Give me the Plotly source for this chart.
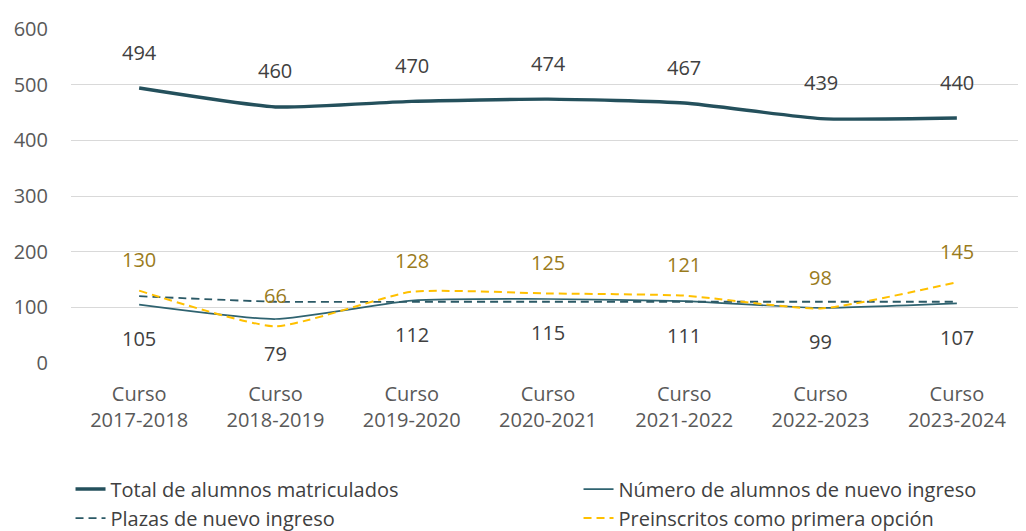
import plotly.graph_objects as go

categories = ["Curso<br>2017-2018", "Curso<br>2018-2019", "Curso<br>2019-2020", "Curso<br>2020-2021",
              "Curso<br>2021-2022", "Curso<br>2022-2023", "Curso<br>2023-2024"]
total_matriculados = [494, 460, 470, 474, 467, 439, 440]
nuevo_ingreso = [105, 79, 112, 115, 111, 99, 107]
plazas = [120, 110, 110, 110, 110, 110, 110]
preinscritos = [130, 66, 128, 125, 121, 98, 145]
y_ticks = [0, 100, 200, 300, 400, 500, 600]

FONT = "Open Sans"
TEAL = "#24505c"

fig = go.Figure()
fig.add_trace(go.Scatter(x=categories, y=total_matriculados, mode="lines",
                         name="Total de alumnos matriculados",
                         line=dict(color=TEAL, width=3.4, shape="spline", smoothing=0.5)))
fig.add_trace(go.Scatter(x=categories, y=nuevo_ingreso, mode="lines",
                         name="Número de alumnos de nuevo ingreso",
                         line=dict(color="#2f6370", width=1.7, shape="spline", smoothing=0.5)))
fig.add_trace(go.Scatter(x=categories, y=plazas, mode="lines",
                         name="Plazas de nuevo ingreso",
                         line=dict(color="#2b5966", width=1.8, dash="8px,5px", shape="spline", smoothing=0.5)))
fig.add_trace(go.Scatter(x=categories, y=preinscritos, mode="lines",
                         name="Preinscritos como primera opción",
                         line=dict(color="#ffc000", width=2, dash="8px,5px", shape="spline", smoothing=0.5)))

annotations = []
for c, v in zip(categories, total_matriculados):
    annotations.append(dict(x=c, y=v, text=str(v), showarrow=False, yshift=36,
                            font=dict(family=FONT, size=20, color="#404040")))
for c, v in zip(categories, preinscritos):
    annotations.append(dict(x=c, y=v, text=str(v), showarrow=False, yshift=31,
                            font=dict(family=FONT, size=20, color="#9a7b1c")))
for c, v in zip(categories, nuevo_ingreso):
    annotations.append(dict(x=c, y=v, text=str(v), showarrow=False, yshift=-34,
                            font=dict(family=FONT, size=20, color="#404040")))

# The page body has an 8px default margin, so the figure is sized 8px smaller
fig.update_layout(
    width=1018, height=523,
    margin=dict(l=63, r=1, t=21, b=168, autoexpand=False),
    paper_bgcolor="white", plot_bgcolor="white",
    font=dict(family=FONT, size=20, color="#595959"),
    showlegend=True,
    legend=dict(orientation="h", x=-0.0005, xanchor="left", y=-0.319, yanchor="top",
                entrywidth=463, entrywidthmode="pixels",
                font=dict(family=FONT, size=20, color="#404040"),
                bgcolor="rgba(0,0,0,0)", tracegroupgap=0),
    annotations=annotations,
)
fig.update_xaxes(showgrid=False, showline=False, zeroline=False, ticks="",
                 range=[-0.5, 6.5], automargin=False,
                 tickfont=dict(family=FONT, size=20, color="#595959"),
                 ticklabelstandoff=17)
fig.update_yaxes(range=[0, 600], tickvals=y_ticks, showgrid=True, gridcolor="#d9d9d9",
                 gridwidth=1, zeroline=False, showline=False, ticks="", automargin=False,
                 tickfont=dict(family=FONT, size=20, color="#595959"),
                 ticklabelstandoff=22)

fig.write_html("out.html")
